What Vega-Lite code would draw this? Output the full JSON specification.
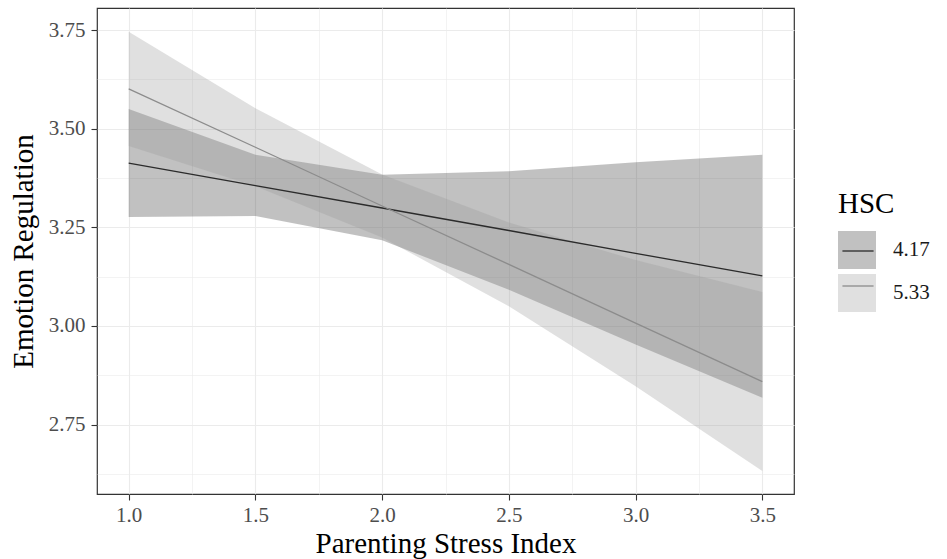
{
  "$schema": "https://vega.github.io/schema/vega-lite/v6.json",
  "width": 697,
  "height": 486,
  "autosize": {"type": "none"},
  "padding": {"left": 97, "top": 8, "right": 153, "bottom": 65},
  "background": "white",
  "config": {
    "font": "Liberation Serif",
    "view": {"stroke": "#333333", "strokeWidth": 1.2},
    "axis": {
      "domain": false,
      "grid": true,
      "gridColor": "#ebebeb",
      "tickColor": "#333333",
      "tickWidth": 1.1,
      "tickSize": 6,
      "labelFont": "Liberation Serif",
      "labelFontSize": 21,
      "labelColor": "#4d4d4d",
      "labelOverlap": false,
      "labelFlush": false,
      "labelPadding": 6,
      "titleFont": "Liberation Serif",
      "titleFontSize": 29,
      "titleFontWeight": "normal",
      "titleColor": "#000000"
    }
  },
  "data": {
    "values": [
      {"x": 1.0, "HSC": "4.17", "fit": 3.413, "lo": 3.276, "hi": 3.550},
      {"x": 1.5, "HSC": "4.17", "fit": 3.356, "lo": 3.279, "hi": 3.434},
      {"x": 2.0, "HSC": "4.17", "fit": 3.299, "lo": 3.217, "hi": 3.383},
      {"x": 2.5, "HSC": "4.17", "fit": 3.242, "lo": 3.092, "hi": 3.392},
      {"x": 3.0, "HSC": "4.17", "fit": 3.184, "lo": 2.953, "hi": 3.415},
      {"x": 3.5, "HSC": "4.17", "fit": 3.127, "lo": 2.818, "hi": 3.434},
      {"x": 1.0, "HSC": "5.33", "fit": 3.601, "lo": 3.456, "hi": 3.746},
      {"x": 1.5, "HSC": "5.33", "fit": 3.453, "lo": 3.354, "hi": 3.552},
      {"x": 2.0, "HSC": "5.33", "fit": 3.304, "lo": 3.224, "hi": 3.384},
      {"x": 2.5, "HSC": "5.33", "fit": 3.156, "lo": 3.050, "hi": 3.262},
      {"x": 3.0, "HSC": "5.33", "fit": 3.007, "lo": 2.847, "hi": 3.167},
      {"x": 3.5, "HSC": "5.33", "fit": 2.859, "lo": 2.632, "hi": 3.086}
    ]
  },
  "layer": [
    {
      "mark": {"type": "area", "opacity": 0.3},
      "encoding": {
        "x": {
          "field": "x", "type": "quantitative",
          "scale": {"domain": [0.875, 3.625], "nice": false, "zero": false},
          "axis": {
            "title": "Parenting Stress Index",
            "values": [1.0, 1.25, 1.5, 1.75, 2.0, 2.25, 2.5, 2.75, 3.0, 3.25, 3.5],
            "labelExpr": "abs(datum.value*2 - round(datum.value*2)) < 1e-6 ? format(datum.value, '.1f') : ''",
            "gridWidth": {"condition": {"test": "abs(datum.value*2 - round(datum.value*2)) < 1e-6", "value": 1.1}, "value": 0.6},
            "tickOpacity": {"condition": {"test": "abs(datum.value*2 - round(datum.value*2)) < 1e-6", "value": 1}, "value": 0},
            "labelPadding": 4,
            "titleBaseline": "alphabetic",
            "titleY": 58
          }
        },
        "y": {
          "field": "lo", "type": "quantitative",
          "scale": {"domain": [2.574, 3.806], "nice": false, "zero": false},
          "axis": {
            "title": "Emotion Regulation",
            "values": [2.625, 2.75, 2.875, 3.0, 3.125, 3.25, 3.375, 3.5, 3.625, 3.75],
            "labelExpr": "abs(datum.value*4 - round(datum.value*4)) < 1e-6 ? format(datum.value, '.2f') : ''",
            "gridWidth": {"condition": {"test": "abs(datum.value*4 - round(datum.value*4)) < 1e-6", "value": 1.1}, "value": 0.6},
            "tickOpacity": {"condition": {"test": "abs(datum.value*4 - round(datum.value*4)) < 1e-6", "value": 1}, "value": 0},
            "titlePadding": 10
          }
        },
        "y2": {"field": "hi"},
        "fill": {
          "field": "HSC", "type": "nominal",
          "scale": {"range": ["#333333", "#999999"]},
          "legend": {
            "orient": "none", "legendX": 741, "legendY": 182,
            "title": "HSC",
            "titleFont": "Liberation Serif", "titleFontSize": 29, "titleFontWeight": "normal", "titleColor": "#000000",
            "titlePadding": 12,
            "labelFont": "Liberation Serif", "labelFontSize": 21, "labelColor": "#1a1a1a",
            "labelOffset": 17,
            "symbolType": "square", "symbolSize": 1444,
            "symbolOpacity": 0.3, "symbolStrokeWidth": 0,
            "rowPadding": 5, "padding": 0
          }
        }
      }
    },
    {
      "mark": {"type": "line", "strokeWidth": 1.3},
      "encoding": {
        "x": {"field": "x", "type": "quantitative"},
        "y": {"field": "fit", "type": "quantitative"},
        "stroke": {
          "field": "HSC", "type": "nominal",
          "scale": {"domain": ["4.17", "5.33"], "range": ["#2b2b2b", "#8c8c8c"]},
          "legend": {
            "orient": "none", "legendX": 741, "legendY": 182,
            "title": " ",
            "titleFont": "Liberation Serif", "titleFontSize": 29, "titleFontWeight": "normal",
            "titlePadding": 12,
            "labelFont": "Liberation Serif", "labelFontSize": 21,
            "labelExpr": "''",
            "labelOffset": 17,
            "symbolType": "M-0.82,0H0.82", "symbolSize": 1444,
            "symbolStrokeWidth": 1.3, "symbolFillColor": "transparent", "symbolOpacity": 1,
            "rowPadding": 5, "padding": 0
          }
        }
      }
    }
  ]
}
